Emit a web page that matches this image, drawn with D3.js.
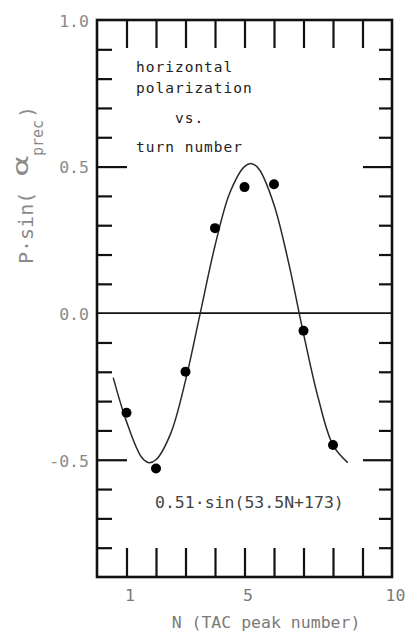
<!DOCTYPE html>
<html>
<head>
<meta charset="utf-8">
<script src="https://cdn.jsdelivr.net/npm/d3@7"></script>
<style>
  html, body { margin: 0; padding: 0; background: #ffffff; }
  svg { display: block; }
</style>
</head>
<body>
<svg id="chart" width="407" height="635"></svg>
<script>
// ---- data ----
const turnN      = [1, 2, 3, 4, 5, 6, 7, 8];
const polValues  = [-0.34, -0.53, -0.20, 0.29, 0.43, 0.44, -0.06, -0.45];

const fitN       = [0.55, 1.0, 1.5, 1.75, 2.0, 2.5, 3.0, 3.5, 4.0, 4.5, 5.0, 5.25, 5.5, 6.0, 6.5, 7.0, 7.5, 8.0, 8.5];
const fitValues  = [-0.22, -0.37, -0.49, -0.51, -0.50, -0.41, -0.23, 0.0, 0.23, 0.41, 0.50, 0.51, 0.49, 0.37, 0.17, -0.07, -0.29, -0.45, -0.51];

const yMajorTicks  = [1.0, 0.5, 0.0, -0.5];
const yTickLabels  = ["1.0", "0.5", "0.0", "-0.5"];
const yMinorTicks  = [0.9, 0.8, 0.7, 0.6, 0.4, 0.3, 0.2, 0.1, -0.1, -0.2, -0.3, -0.4, -0.6, -0.7, -0.8];
const yLongTicks   = [0.5, -0.5];
const xTicks       = [1, 2, 3, 4, 5, 6, 7, 8, 9];
const xTickLabels  = [1, 5, 10];

const noteLines = ["horizontal", "polarization", "vs.", "turn number"];
const fitLabel  = "0.51\u00B7sin(53.5N+173)";
const xTitle    = "N (TAC peak number)";

// ---- layout ----
const L = 97, R = 392, T = 20, B = 577;
const svg = d3.select("#chart");
const x = d3.scaleLinear().domain([0, 10]).range([L, R]);
const y = d3.scaleLinear().domain([-0.9, 1.0]).range([B, T]);

const mono = "'DejaVu Sans Mono', 'Liberation Mono', monospace";

function styleTicks(g, w) {
  g.select(".domain").remove();
  g.selectAll(".tick line").attr("stroke", "#111").attr("stroke-width", w);
  g.selectAll(".tick text").remove();
}

// left ticks (inward)
svg.append("g").attr("transform", `translate(${L},0)`)
  .call(d3.axisRight(y).tickValues(yMinorTicks).tickSize(15))
  .call(g => styleTicks(g, 2.2));
svg.append("g").attr("transform", `translate(${L},0)`)
  .call(d3.axisRight(y).tickValues(yLongTicks).tickSize(30))
  .call(g => styleTicks(g, 2.2));
// right ticks (inward)
svg.append("g").attr("transform", `translate(${R},0)`)
  .call(d3.axisLeft(y).tickValues(yMinorTicks).tickSize(13))
  .call(g => styleTicks(g, 2.2));
svg.append("g").attr("transform", `translate(${R},0)`)
  .call(d3.axisLeft(y).tickValues(yLongTicks).tickSize(29))
  .call(g => styleTicks(g, 2.2));
// top ticks (inward)
svg.append("g").attr("transform", `translate(0,${T})`)
  .call(d3.axisBottom(x).tickValues(xTicks).tickSize(28))
  .call(g => styleTicks(g, 2.2));
// bottom ticks (inward)
svg.append("g").attr("transform", `translate(0,${B})`)
  .call(d3.axisTop(x).tickValues(xTicks).tickSize(29))
  .call(g => styleTicks(g, 2.2));

// zero line
svg.append("line")
  .attr("x1", x(0)).attr("x2", x(10))
  .attr("y1", y(0)).attr("y2", y(0))
  .attr("stroke", "#111").attr("stroke-width", 1.6);

// frame
svg.append("rect")
  .attr("x", L).attr("y", T).attr("width", R - L).attr("height", B - T)
  .attr("fill", "none").attr("stroke", "#111").attr("stroke-width", 2.6);

// y tick labels
const yLab = svg.append("g").attr("transform", `translate(${L},0)`)
  .call(d3.axisLeft(y).tickValues(yMajorTicks).tickSize(0).tickPadding(8)
        .tickFormat((d, i) => yTickLabels[i]));
yLab.select(".domain").remove();
yLab.selectAll("text")
  .attr("font-family", mono).attr("font-size", 16.5).attr("fill", "#8a8a8a")
  .attr("dy", "0.38em");

// x tick labels
const xLab = svg.append("g").attr("transform", `translate(3,${B})`)
  .call(d3.axisBottom(x).tickValues(xTickLabels).tickSize(0).tickPadding(12));
xLab.select(".domain").remove();
xLab.selectAll("text")
  .attr("font-family", mono).attr("font-size", 16.5).attr("fill", "#7a7a7a");

// x title
svg.append("text")
  .attr("x", 266).attr("y", 628).attr("text-anchor", "middle")
  .attr("font-family", mono).attr("font-size", 16.5).attr("fill", "#7a7a7a")
  .text(xTitle);

// y title pieces (rotated)
const yt = svg.append("g").attr("fill", "#8a8a8a").attr("font-family", mono);
yt.append("text")
  .attr("transform", "translate(33,264) rotate(-90)")
  .attr("font-size", 20).text("P\u00B7sin(");
yt.append("text")
  .attr("transform", "translate(28,166) rotate(-90) scale(1.5,1)")
  .attr("text-anchor", "middle")
  .attr("font-family", "'DejaVu Sans', sans-serif")
  .attr("font-size", 22).text("\u03B1");
yt.append("text")
  .attr("transform", "translate(43,156) rotate(-90)")
  .attr("font-size", 15).text("prec");
yt.append("text")
  .attr("transform", "translate(34,118) rotate(-90)")
  .attr("font-size", 20).text(")");

// fitted curve
const line = d3.line()
  .x((d, i) => x(fitN[i]))
  .y(d => y(d))
  .curve(d3.curveCatmullRom.alpha(0.5));
svg.append("path")
  .datum(fitValues)
  .attr("d", line)
  .attr("fill", "none").attr("stroke", "#2a2a2a").attr("stroke-width", 1.5);

// data points
svg.append("g").selectAll("circle")
  .data(polValues)
  .join("circle")
  .attr("cx", (d, i) => x(turnN[i]))
  .attr("cy", d => y(d))
  .attr("r", 5)
  .attr("fill", "#000");

// annotation text
const noteX = [136, 136, 175, 136];
const noteY = [72, 93, 123, 152];
svg.append("g").selectAll("text")
  .data(noteLines)
  .join("text")
  .attr("x", (d, i) => noteX[i])
  .attr("y", (d, i) => noteY[i])
  .attr("font-family", mono).attr("font-size", 14.5)
  .attr("letter-spacing", 1.0)
  .attr("fill", "#222")
  .text(d => d);

svg.append("text")
  .attr("x", 155).attr("y", 508)
  .attr("font-family", mono).attr("font-size", 16.5)
  .attr("fill", "#444")
  .text(fitLabel);
</script>
</body>
</html>
